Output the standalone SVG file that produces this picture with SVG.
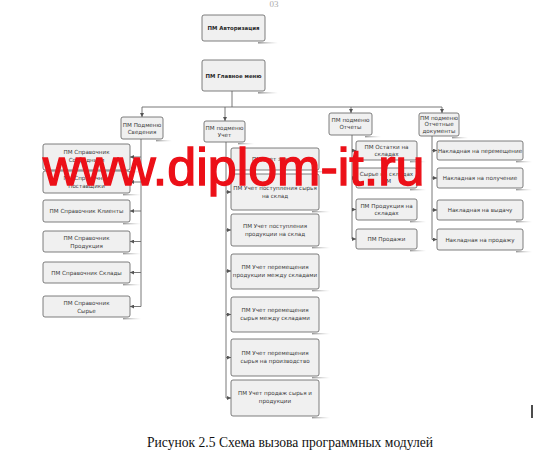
<svg xmlns="http://www.w3.org/2000/svg" width="548" height="460" viewBox="0 0 548 460">
<style>
.box{fill:#f0f0f0;stroke:#5e5e5e;stroke-width:0.8}
.t{font-family:"DejaVu Sans","Liberation Sans",sans-serif;font-size:5.6px;fill:#3a3a3a;text-anchor:middle}
.tb{font-family:"DejaVu Sans","Liberation Sans",sans-serif;font-size:5.4px;font-weight:bold;fill:#2a2a2a;text-anchor:middle}
.ln{stroke:#6a6a6a;stroke-width:0.9;fill:none}
.ar{stroke:#6a6a6a;stroke-width:0.9;fill:none;marker-end:url(#ah)}
.sh{fill:url(#shg)}
.wm{font-family:"Liberation Sans",Arial,sans-serif;font-size:52px;fill:#ec1018;stroke:#ec1018;stroke-width:1.4}
.cap{font-family:"Liberation Serif","Times New Roman",serif;font-size:13.6px;fill:#111;text-anchor:middle}
</style>
<defs>
<marker id="ah" viewBox="0 0 6 6" refX="6" refY="3" markerWidth="4" markerHeight="4" markerUnits="userSpaceOnUse" orient="auto">
<path d="M0,0 L6,3 L0,6 z" fill="#555"/>
</marker>
<linearGradient id="shg" x1="0" y1="0" x2="1" y2="0">
<stop offset="0" stop-color="#8a8a8a" stop-opacity="0.9"/>
<stop offset="1" stop-color="#bbbbbb" stop-opacity="0"/>
</linearGradient>
</defs>
<rect width="548" height="460" fill="#fff"/>
<text x="274" y="7" font-family="Liberation Serif,serif" font-size="9" fill="#aaa" text-anchor="middle">03</text>

<g id="connectors">
<path class="ln" d="M232,91 V107 M142,107 H442"/>
<path class="ar" d="M142,107 V117"/>
<path class="ar" d="M225,107 V121"/>
<path class="ar" d="M351,107 V113"/>
<path class="ar" d="M442,107 V113"/>
<path class="ln" d="M141,139 V306.5"/>
<path class="ar" d="M141,157 H130"/>
<path class="ar" d="M141,182 H130"/>
<path class="ar" d="M141,211 H130"/>
<path class="ar" d="M141,241.5 H130"/>
<path class="ar" d="M141,272.5 H130"/>
<path class="ar" d="M141,306.5 H130"/>
<path class="ln" d="M226,142 V398"/>
<path class="ar" d="M226,159 H231"/>
<path class="ar" d="M226,192 H231"/>
<path class="ar" d="M226,230 H231"/>
<path class="ar" d="M226,271 H231"/>
<path class="ar" d="M226,314.5 H231"/>
<path class="ar" d="M226,357.5 H231"/>
<path class="ar" d="M226,398 H231"/>
<path class="ln" d="M352,135 V239"/>
<path class="ar" d="M352,150.5 H356"/>
<path class="ar" d="M352,178 H356"/>
<path class="ar" d="M352,209.5 H356"/>
<path class="ar" d="M352,239 H356"/>
<path class="ln" d="M432,136 V239.5"/>
<path class="ar" d="M432,150.5 H437"/>
<path class="ar" d="M432,178 H437"/>
<path class="ar" d="M432,210 H437"/>
<path class="ar" d="M432,239.5 H437"/>
</g>

<g id="auth"><rect class="box" x="202" y="15" width="63" height="26" rx="2"/><rect class="sh" x="258" y="42" width="20" height="1.6"/><text class="tb" x="233.5" y="30">ПМ Авторизация</text></g>
<g id="mainmenu"><rect class="box" x="202" y="60" width="63" height="31" rx="2"/><rect class="sh" x="258" y="92" width="20" height="1.6"/><text class="tb" x="233.5" y="77.5">ПМ Главное меню</text></g>

<g id="svedenia"><rect class="box" x="121" y="117" width="42" height="22" rx="2"/><rect class="sh" x="156" y="140" width="16" height="1.4"/><text class="t" x="142" y="126.5">ПМ Подменю<tspan x="142" dy="7">Сведения</tspan></text></g>
<g id="uchet"><rect class="box" x="204" y="121" width="41" height="21" rx="2"/><rect class="sh" x="238" y="143" width="16" height="1.4"/><text class="t" x="224.5" y="129.5">ПМ подменю<tspan x="224.5" dy="7">Учет</tspan></text></g>
<g id="otchety"><rect class="box" x="329" y="113" width="43" height="22" rx="2"/><rect class="sh" x="365" y="136" width="16" height="1.4"/><text class="t" x="350.5" y="122">ПМ подменю<tspan x="350.5" dy="7">Отчеты</tspan></text></g>
<g id="docs"><rect class="box" x="419" y="113" width="40" height="23" rx="2"/><rect class="sh" x="452" y="137" width="16" height="1.4"/><text class="t" x="439" y="119.5">ПМ подменю<tspan x="439" dy="6.8">Отчетные</tspan><tspan x="439" dy="6.8">документы</tspan></text></g>

<g id="sotr"><rect class="box" x="43" y="144" width="87" height="26" rx="2"/><rect class="sh" x="123" y="171" width="18" height="1.4"/><text class="t" x="86.5" y="154">ПМ Справочник<tspan x="86.5" dy="8">Сотрудники</tspan></text></g>
<g id="postav"><rect class="box" x="43" y="171" width="87" height="22" rx="2"/><rect class="sh" x="123" y="194" width="18" height="1.4"/><text class="t" x="86.5" y="180">ПМ Справочник<tspan x="86.5" dy="8">Поставщики</tspan></text></g>
<g id="klienty"><rect class="box" x="43" y="200" width="87" height="22" rx="2"/><rect class="sh" x="123" y="223" width="18" height="1.4"/><text class="t" x="86.5" y="213">ПМ Справочник Клиенты</text></g>
<g id="produkcia"><rect class="box" x="43" y="231" width="87" height="21" rx="2"/><rect class="sh" x="123" y="253" width="18" height="1.4"/><text class="t" x="86.5" y="240">ПМ Справочник<tspan x="86.5" dy="8">Продукция</tspan></text></g>
<g id="sklady"><rect class="box" x="43" y="262" width="87" height="21" rx="2"/><rect class="sh" x="123" y="284" width="18" height="1.4"/><text class="t" x="86.5" y="274.5">ПМ Справочник Склады</text></g>
<g id="syrie"><rect class="box" x="43" y="296" width="87" height="21" rx="2"/><rect class="sh" x="123" y="318" width="18" height="1.4"/><text class="t" x="86.5" y="305">ПМ Справочник<tspan x="86.5" dy="8">Сырье</tspan></text></g>

<g id="zayavki"><rect class="box" x="231" y="148" width="88" height="22" rx="2"/><rect class="sh" x="312" y="171" width="18" height="1.4"/><text class="t" x="275" y="161">ПМ Учет заявок</text></g>
<g id="postup-syr"><rect class="box" x="231" y="174" width="88" height="36" rx="2"/><rect class="sh" x="312" y="211" width="18" height="1.4"/><text class="t" x="275" y="190">ПМ Учет поступления сырья<tspan x="275" dy="8">на склад</tspan></text></g>
<g id="postup-prod"><rect class="box" x="231" y="214" width="88" height="32" rx="2"/><rect class="sh" x="312" y="247" width="18" height="1.4"/><text class="t" x="275" y="228">ПМ Учет поступления<tspan x="275" dy="8">продукции на склад</tspan></text></g>
<g id="perem-prod"><rect class="box" x="231" y="254" width="88" height="35" rx="2"/><rect class="sh" x="312" y="290" width="18" height="1.4"/><text class="t" x="275" y="269">ПМ Учет перемещения<tspan x="275" dy="8">продукции между складами</tspan></text></g>
<g id="perem-syr"><rect class="box" x="231" y="297" width="88" height="35" rx="2"/><rect class="sh" x="312" y="333" width="18" height="1.4"/><text class="t" x="275" y="312">ПМ Учет перемещения<tspan x="275" dy="8">сырья между складами</tspan></text></g>
<g id="perem-proizv"><rect class="box" x="231" y="339" width="88" height="37" rx="2"/><rect class="sh" x="312" y="377" width="18" height="1.4"/><text class="t" x="275" y="355">ПМ Учет перемещения<tspan x="275" dy="8">сырья на производство</tspan></text></g>
<g id="prodazhi-uchet"><rect class="box" x="231" y="380" width="88" height="36" rx="2"/><rect class="sh" x="312" y="417" width="18" height="1.4"/><text class="t" x="275" y="395">ПМ Учет продаж сырья и<tspan x="275" dy="8">продукции</tspan></text></g>

<g id="ostatki"><rect class="box" x="356" y="141" width="61" height="19" rx="2"/><rect class="sh" x="410" y="161" width="16" height="1.4"/><text class="t" x="386.5" y="149">ПМ Остатки на<tspan x="386.5" dy="7">складах</tspan></text></g>
<g id="syrie-sklad"><rect class="box" x="356" y="168" width="61" height="20" rx="2"/><rect class="sh" x="410" y="189" width="16" height="1.4"/><text class="t" x="386.5" y="176">Сырье на складах<tspan x="386.5" dy="7">ПМ</tspan></text></g>
<g id="prod-sklad"><rect class="box" x="356" y="199" width="61" height="21" rx="2"/><rect class="sh" x="410" y="221" width="16" height="1.4"/><text class="t" x="386.5" y="207.5">ПМ Продукция на<tspan x="386.5" dy="7">складах</tspan></text></g>
<g id="prodazhi"><rect class="box" x="356" y="229" width="61" height="20" rx="2"/><rect class="sh" x="410" y="250" width="16" height="1.4"/><text class="t" x="386.5" y="241">ПМ Продажи</text></g>

<g id="nakl-perem"><rect class="box" x="437" y="141" width="86" height="19" rx="2"/><rect class="sh" x="516" y="161" width="16" height="1.4"/><text class="t" x="480" y="152.5">Накладная на перемещение</text></g>
<g id="nakl-poluch"><rect class="box" x="437" y="168" width="86" height="20" rx="2"/><rect class="sh" x="516" y="189" width="16" height="1.4"/><text class="t" x="480" y="180">Накладная на получение</text></g>
<g id="nakl-vydacha"><rect class="box" x="437" y="200" width="86" height="20" rx="2"/><rect class="sh" x="516" y="221" width="16" height="1.4"/><text class="t" x="480" y="212">Накладная на выдачу</text></g>
<g id="nakl-prodazha"><rect class="box" x="437" y="229" width="86" height="21" rx="2"/><rect class="sh" x="516" y="251" width="16" height="1.4"/><text class="t" x="480" y="241.5">Накладная на продажу</text></g>

<text class="wm" x="43" y="185">www.diplom-it.ru</text>

<line x1="532" y1="405" x2="532" y2="418" stroke="#111" stroke-width="1.5"/>
<text class="cap" x="290" y="447">Рисунок 2.5 Схема вызова программных модулей</text>
</svg>
